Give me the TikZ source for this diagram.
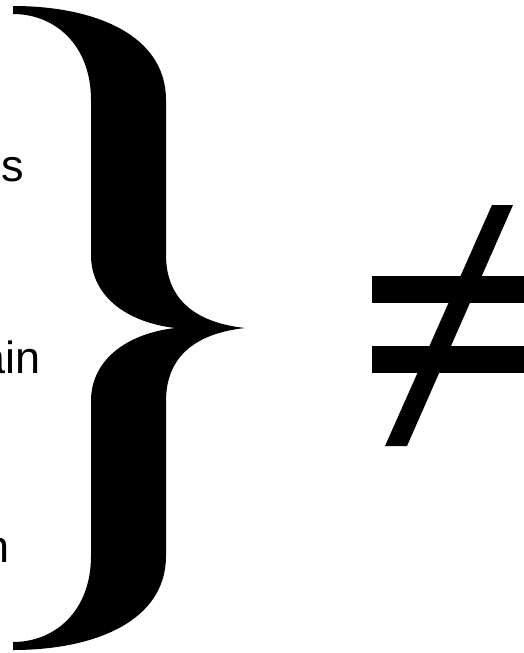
\documentclass[tikz,border=0pt]{standalone}
\usepackage{fontspec}
\setmainfont{Liberation Sans}
\begin{document}
\begin{tikzpicture}[x=1pt,y=-1pt,
  frag/.style={anchor=base east,inner sep=0pt,font=\fontsize{45}{54}\selectfont},
  ink/.style={fill=black,draw=none}]
\useasboundingbox[fill=white] (0,0) rectangle (523,653);
% text fragments (cropped at the left edge)
\node[frag] (t1) at (24,181) {s};
\node[frag] (t2) at (41,373) {ain};
\node[frag] (t3) at (10,562) {n};
% right curly brace
\path[ink] (13,6) .. controls (95,6) and (166,35) .. (166,100)
  -- (166,255) .. controls (166,295) and (190,322) .. (245,328)
  .. controls (190,334) and (166,361) .. (166,401)
  -- (166,556) .. controls (166,621) and (95,650) .. (13,650)
  -- (13,642) .. controls (55,642) and (91,611) .. (91,556)
  -- (91,401) .. controls (91,361) and (125,334) .. (175,328)
  .. controls (125,322) and (91,295) .. (91,255)
  -- (91,100) .. controls (91,45) and (55,14) .. (13,14) -- cycle;
% not-equal sign
\path[ink] (372,276) rectangle (530,303);
\path[ink] (372,346) rectangle (530,373);
\path[ink] (492,205) -- (513,205) -- (407,446) -- (385,446) -- cycle;
\end{tikzpicture}
\end{document}
